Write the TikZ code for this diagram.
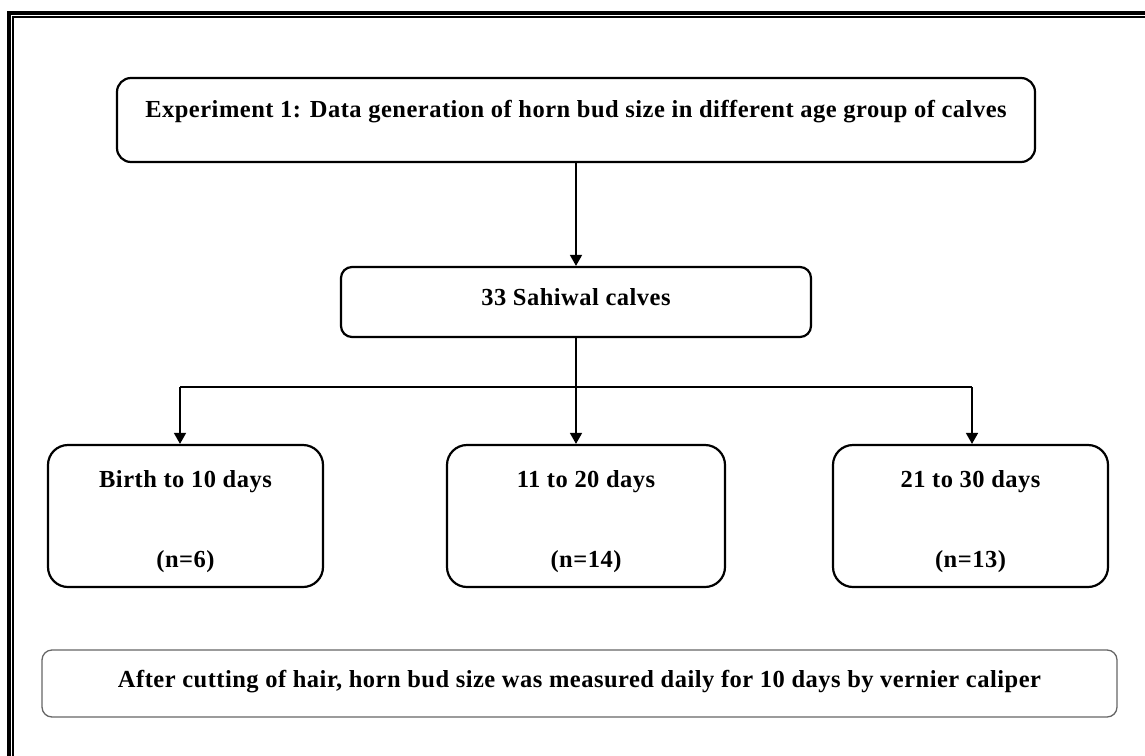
\documentclass[tikz,border=0pt]{standalone}
\usepackage{fontspec}
\setmainfont[LetterSpace=2]{Liberation Serif}
\usetikzlibrary{arrows.meta,positioning}

\begin{document}
\begin{tikzpicture}[x=1pt,y=-1pt,
every node/.style={anchor=base,inner sep=0pt,font=\fontsize{24.5}{29}\selectfont\bfseries},
box/.style={draw,line width=2.2pt,rounded corners=14pt},
agebox/.style={box,rounded corners=20pt,text height=42pt,text depth=100pt},
note/.style={draw=black!60,line width=1.3pt,rounded corners=10pt},
arr/.style={line width=1.6pt,-{Triangle[width=12pt,length=11pt]}}]
\useasboundingbox[fill=white] (0,0) rectangle (1145,755);
\draw[line width=4pt] (9,800) -- (9,12.5) -- (1200,12.5);
\draw[line width=1.5pt] (13.2,800) -- (13.2,16.8) -- (1200,16.8);

\node[box,minimum width=918pt,text height=39pt,text depth=45pt] (exp) at (576,117) {Experiment 1: Data generation of horn bud size in different age group of calves};
\node[box,rounded corners=11pt,minimum width=470pt,text height=38pt,text depth=32pt] (sah) at (576,305) {33 Sahiwal calves};

\node[agebox,minimum width=275pt] (age1) at (185.5,487) {Birth to 10 days};
\node[agebox,minimum width=278pt] (age2) at (586,487) {11 to 20 days};
\node[agebox,minimum width=275pt] (age3) at (970.5,487) {21 to 30 days};
\node (n1) at (185.5,567) {(n=6)};
\node (n2) at (586,567) {(n=14)};
\node (n3) at (970.5,567) {(n=13)};

\node[note,minimum width=1075pt,text height=37pt,text depth=30pt] (cut) at (579.5,687) {After cutting of hair, horn bud size was measured daily for 10 days by vernier caliper};

\coordinate (l) at (180,387);
\coordinate (r) at (972,387);
\draw[arr] (exp.south) -- (exp.south |- sah.north);
\draw[arr] (sah.south) -- (sah.south |- age2.north);
\draw[line width=1.5pt] (l) -- (r);
\draw[arr] (l) -- (l |- age1.north);
\draw[arr] (r) -- (r |- age3.north);
\end{tikzpicture}
\end{document}
